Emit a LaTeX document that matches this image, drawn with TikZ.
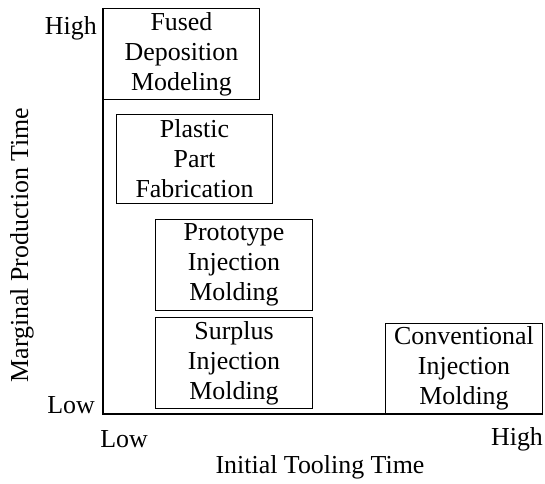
\documentclass[tikz,border=0pt]{standalone}
\usepackage{fontspec}
\setmainfont{Liberation Serif}
\usetikzlibrary{positioning}

\tikzset{
  techbox/.style={draw, line width=0.8pt, align=center, inner sep=0pt,
    minimum width=157, minimum height=91},
  axislabel/.style={inner sep=0pt}
}

\begin{document}
\begin{tikzpicture}[x=1bp, y=-1bp, font=\fontsize{26}{30}\selectfont]

		% Fix the canvas.
		\useasboundingbox (0,0) rectangle (545,484);

		% Axes.
		\coordinate (ytop) at (103,8);
		\coordinate (origin) at (103,414);
		\coordinate (xend) at (543,414);
		\draw[line width=1.3pt] (ytop) -- (origin) -- (xend);

		% Axis ticks.
		\node[axislabel, anchor=east] (yhigh) at (97,28) {High};
		\node[axislabel, anchor=east] (ylow) at (95,405) {Low};
		\node[axislabel] (xlow) at (124,439) {Low};
		\node[axislabel] (xhigh) at (517,439) {High};

		% Axis titles.
		\node[axislabel] (xtitle) at (320,467) {Initial Tooling Time};
		\node[axislabel, rotate=90] (ytitle) at (22,245) {Marginal Production Time};

		% Processes.
		\node[techbox] (fdm) at (181.5,54) {Fused\\Deposition\\Modeling};
		\node[techbox, minimum height=90] (ppf) at (194.5,159) {Plastic\\Part\\Fabrication};
		\node[techbox, minimum width=158] (pim) at (234,265) {Prototype\\Injection\\Molding};
		\node[techbox, minimum width=158] (sim) at (234,363) {Surplus\\Injection\\Molding};
		\node[techbox, minimum width=158] (cim) at (464,368.5) {Conventional\\Injection\\Molding};

\end{tikzpicture}
\end{document}
